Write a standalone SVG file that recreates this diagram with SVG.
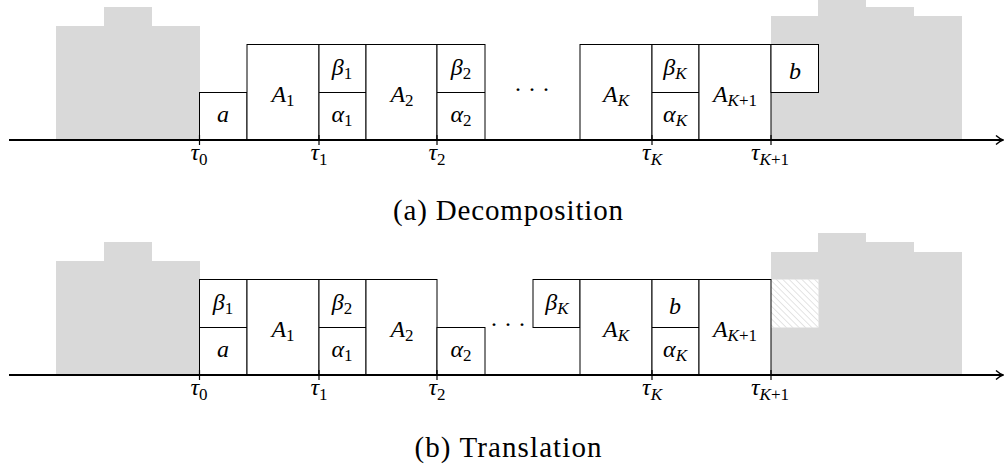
<svg xmlns="http://www.w3.org/2000/svg" width="1005" height="468" viewBox="0 0 1005 468">
<style>
.gray{fill:#d9d9d9;stroke:none}
.box{fill:#fff;stroke:#000;stroke-width:1}
.ln{stroke:#000;stroke-width:1;fill:none}
.axis{stroke:#000;stroke-width:2.2;fill:none}
.tick{stroke:#000;stroke-width:1.2}
.m{font-family:"Liberation Serif","DejaVu Serif",serif;font-style:italic;font-size:24px;text-anchor:middle;fill:#000}
.sub{font-style:normal;font-size:17px}
.subi{font-style:italic;font-size:17px}
.cap{font-family:"Liberation Serif","DejaVu Serif",serif;font-size:29px;text-anchor:middle;fill:#000}
</style>
<defs>
<pattern id="hatch" patternUnits="userSpaceOnUse" width="4.5" height="4.5" patternTransform="rotate(-45)">
<line x1="0" y1="0" x2="0" y2="4.5" stroke="#c4c4c4" stroke-width="0.9"/>
</pattern>
<marker id="arr" viewBox="0 0 10 10" refX="9" refY="5" markerWidth="10" markerHeight="10" markerUnits="userSpaceOnUse" orient="auto">
<path d="M2,0.5 Q6,4 9,5 Q6,6 2,9.5" fill="none" stroke="#000" stroke-width="1.4"/>
</marker>
</defs>

<!-- (a) Decomposition -->
<g id="diagram-a">
<g id="a-gray-left">
<path class="gray" d="M56,140 V26 H104 V7 H152 V26 H200 V140 Z"/>
</g>
<g id="a-gray-right">
<path class="gray" d="M771,140 V16 H818 V0 H866 V7 H914 V16 H962 V140 Z"/>
</g>
<g id="a-box-a"><rect class="box" x="199.5" y="92.5" width="47.5" height="47.5"/><text class="m" x="223" y="122">a</text></g>
<g id="a-box-A1"><rect class="box" x="247" y="44.5" width="72" height="95.5"/><text class="m" x="283" y="102">A<tspan class="sub" dy="4">1</tspan></text></g>
<g id="a-box-b1a1"><rect class="box" x="319" y="44.5" width="47" height="95.5"/><line class="ln" x1="319" y1="92.5" x2="366" y2="92.5"/><text class="m" x="342" y="75">β<tspan class="sub" dy="4">1</tspan></text><text class="m" x="342" y="122">α<tspan class="sub" dy="4">1</tspan></text></g>
<g id="a-box-A2"><rect class="box" x="366" y="44.5" width="71" height="95.5"/><text class="m" x="402" y="102">A<tspan class="sub" dy="4">2</tspan></text></g>
<g id="a-box-b2a2"><rect class="box" x="437" y="44.5" width="48" height="95.5"/><line class="ln" x1="437" y1="92.5" x2="485" y2="92.5"/><text class="m" x="461" y="75">β<tspan class="sub" dy="4">2</tspan></text><text class="m" x="461" y="122">α<tspan class="sub" dy="4">2</tspan></text></g>
<g id="a-dots"><text class="m" x="532" y="97" style="font-style:normal">· · ·</text></g>
<g id="a-box-AK"><rect class="box" x="580" y="44.5" width="72" height="95.5"/><text class="m" x="616" y="102">A<tspan class="subi" dy="4">K</tspan></text></g>
<g id="a-box-bKaK"><rect class="box" x="652" y="44.5" width="47" height="95.5"/><line class="ln" x1="652" y1="92.5" x2="699" y2="92.5"/><text class="m" x="675" y="75">β<tspan class="subi" dy="4">K</tspan></text><text class="m" x="675" y="122">α<tspan class="subi" dy="4">K</tspan></text></g>
<g id="a-box-AK1"><rect class="box" x="699" y="44.5" width="72" height="95.5"/><text class="m" x="735" y="102">A<tspan class="subi" dy="4">K</tspan><tspan class="sub">+1</tspan></text></g>
<g id="a-box-b"><rect class="box" x="771" y="44.5" width="47.5" height="48"/><text class="m" x="795" y="79">b</text></g>
</g>

<!-- (b) Translation -->
<g id="diagram-b">
<g id="b-gray-left">
<path class="gray" d="M56,375 V261 H104 V242 H152 V261 H200 V375 Z"/>
</g>
<g id="b-gray-right">
<path class="gray" d="M771,375 V252 H818 V233 H866 V242 H914 V252 H962 V375 Z"/>
</g>
<g id="b-hatch"><rect x="771" y="279.5" width="47.5" height="48" fill="#fff"/><rect x="771" y="279.5" width="47.5" height="48" fill="url(#hatch)"/></g>
<g id="b-box-b1a"><rect class="box" x="199.5" y="279.5" width="47.5" height="95.5"/><line class="ln" x1="199.5" y1="327.5" x2="247" y2="327.5"/><text class="m" x="223" y="310">β<tspan class="sub" dy="4">1</tspan></text><text class="m" x="223" y="357">a</text></g>
<g id="b-box-A1"><rect class="box" x="247" y="279.5" width="72" height="95.5"/><text class="m" x="283" y="337">A<tspan class="sub" dy="4">1</tspan></text></g>
<g id="b-box-b2a1"><rect class="box" x="319" y="279.5" width="47" height="95.5"/><line class="ln" x1="319" y1="327.5" x2="366" y2="327.5"/><text class="m" x="342" y="310">β<tspan class="sub" dy="4">2</tspan></text><text class="m" x="342" y="357">α<tspan class="sub" dy="4">1</tspan></text></g>
<g id="b-box-A2"><rect class="box" x="366" y="279.5" width="71" height="95.5"/><text class="m" x="402" y="337">A<tspan class="sub" dy="4">2</tspan></text></g>
<g id="b-box-a2"><rect class="box" x="437" y="327.5" width="48" height="47.5"/><text class="m" x="461" y="357">α<tspan class="sub" dy="4">2</tspan></text></g>
<g id="b-dots"><text class="m" x="508" y="332" style="font-style:normal">· · ·</text></g>
<g id="b-box-bK"><rect class="box" x="533" y="279.5" width="47" height="48"/><text class="m" x="557" y="310">β<tspan class="subi" dy="4">K</tspan></text></g>
<g id="b-box-AK"><rect class="box" x="580" y="279.5" width="72" height="95.5"/><text class="m" x="616" y="337">A<tspan class="subi" dy="4">K</tspan></text></g>
<g id="b-box-baK"><rect class="box" x="652" y="279.5" width="47" height="95.5"/><line class="ln" x1="652" y1="327.5" x2="699" y2="327.5"/><text class="m" x="675" y="314">b</text><text class="m" x="675" y="357">α<tspan class="subi" dy="4">K</tspan></text></g>
<g id="b-box-AK1"><rect class="box" x="699" y="279.5" width="72" height="95.5"/><text class="m" x="735" y="337">A<tspan class="subi" dy="4">K</tspan><tspan class="sub">+1</tspan></text></g>
</g>

<g id="connectors">
<line class="axis" x1="9" y1="140" x2="1003" y2="140" marker-end="url(#arr)"/>
<line class="axis" x1="9" y1="375" x2="1003" y2="375" marker-end="url(#arr)"/>
<g class="tick">
<line x1="199.5" y1="135" x2="199.5" y2="145"/><line x1="319" y1="135" x2="319" y2="145"/><line x1="437" y1="135" x2="437" y2="145"/><line x1="652" y1="135" x2="652" y2="145"/><line x1="771" y1="135" x2="771" y2="145"/>
<line x1="199.5" y1="370" x2="199.5" y2="380"/><line x1="319" y1="370" x2="319" y2="380"/><line x1="437" y1="370" x2="437" y2="380"/><line x1="652" y1="370" x2="652" y2="380"/><line x1="771" y1="370" x2="771" y2="380"/>
</g>
</g>

<g id="tau-labels">
<text class="m" x="199" y="160">τ<tspan class="sub" dy="5">0</tspan></text>
<text class="m" x="319" y="160">τ<tspan class="sub" dy="5">1</tspan></text>
<text class="m" x="437" y="160">τ<tspan class="sub" dy="5">2</tspan></text>
<text class="m" x="652" y="160">τ<tspan class="subi" dy="5">K</tspan></text>
<text class="m" x="770" y="160">τ<tspan class="subi" dy="5">K</tspan><tspan class="sub">+1</tspan></text>
<text class="m" x="199" y="395">τ<tspan class="sub" dy="5">0</tspan></text>
<text class="m" x="319" y="395">τ<tspan class="sub" dy="5">1</tspan></text>
<text class="m" x="437" y="395">τ<tspan class="sub" dy="5">2</tspan></text>
<text class="m" x="652" y="395">τ<tspan class="subi" dy="5">K</tspan></text>
<text class="m" x="770" y="395">τ<tspan class="subi" dy="5">K</tspan><tspan class="sub">+1</tspan></text>
</g>

<text class="cap" x="508" y="220" textLength="230" lengthAdjust="spacing">(a) Decomposition</text>
<text class="cap" x="508" y="457" textLength="187" lengthAdjust="spacing">(b) Translation</text>
</svg>
